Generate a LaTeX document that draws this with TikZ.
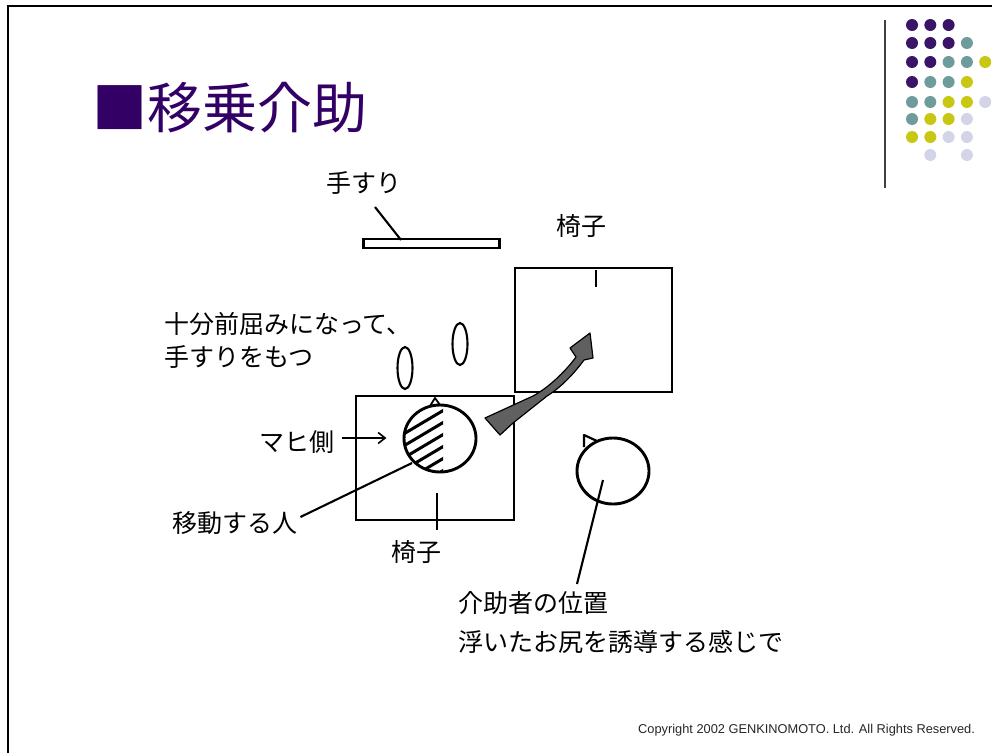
\documentclass[tikz,border=0pt]{standalone}
\usepackage{fontspec}
\setmainfont{Liberation Sans}
\newfontfamily\jp{Noto Sans CJK JP}
\usetikzlibrary{arrows.meta}
\definecolor{titlepurple}{HTML}{330066}
\definecolor{dotP}{HTML}{3A1466}
\definecolor{dotT}{HTML}{6E9C9C}
\definecolor{dotY}{HTML}{C8C814}
\definecolor{dotL}{HTML}{D4D4E8}
\definecolor{arrowgray}{HTML}{606060}
\tikzset{
  lbl/.style={font=\jp\fontsize{25}{29}\selectfont, anchor=west, inner sep=0pt, text=black},
  ink/.style={draw=black, line width=2.9pt},
  thinink/.style={draw=black, line width=2.1pt},
  dotstyle/.style={circle, minimum size=12pt, inner sep=0pt},
}
\begin{document}
\begin{tikzpicture}[x=1pt,y=-1pt]
\useasboundingbox (0,0) rectangle (992,753);
% frame
\draw[line width=2.6pt] (8,753) -- (8,6) -- (992,6);
% title
\node[anchor=west, inner sep=0pt, text=titlepurple, font=\jp\fontsize{55}{62}\selectfont] (title) at (92,108) {■移乗介助};
% logo
\draw[line width=1.3pt, draw=black!75] (885,20) coordinate (vl1) -- (885,188) coordinate (vl2);
\foreach \row/\ycoord/\list in {0/25/{P,P,P},1/43/{P,P,P,T},2/62/{P,P,T,T,Y},3/82/{P,T,T,Y},4/102/{T,T,Y,Y,L},5/119/{T,Y,Y,L},6/137/{Y,Y,L,L}}{
  \foreach \c [count=\i from 0] in \list {
    \pgfmathsetmacro{\xx}{912+18.3*\i}
    \node[dotstyle, fill=dot\c] (dot-\row-\i) at (\xx,\ycoord) {};
  }
}
\node[dotstyle, fill=dotL] (dot-7-1) at (930.3,155) {};
\node[dotstyle, fill=dotL] (dot-7-3) at (966.9,155) {};
% handrail
\node[draw=black, line width=2.6pt, minimum width=136pt, minimum height=9pt, inner sep=0pt] (rail) at (431.5,243.5) {};
\node[lbl] (railtxt) at (326,183) {手すり};
\coordinate (railtop) at (375,207);
\draw[thinink] (railtop) -- (401,240);
% top chair
\node[ink, minimum width=157pt, minimum height=124pt, inner sep=0pt] (chairA) at (593.5,330) {};
\draw[thinink] (596,270) -- (596,287);
\node[lbl] (chairAtxt) at (556,226) {椅子};
% bottom chair
\node[ink, minimum width=158pt, minimum height=124pt, inner sep=0pt] (chairB) at (435,458) {};
\draw[thinink] (437,493) -- (437,530);
\node[lbl] (chairBtxt) at (391,552) {椅子};
% ovals (hands)
\draw[thinink] (405,368) ellipse [x radius=7.5, y radius=21];
\draw[thinink] (460,344) ellipse [x radius=7.5, y radius=21];
% texts
\node[lbl] (t1) at (164,324) {十分前屈みになって、};
\node[lbl] (t2) at (164,357) {手すりをもつ};
\node[lbl] (mahi) at (259,442) {マヒ側};
\node[lbl] (idou) at (172,523) {移動する人};
\node[lbl] (kaijo1) at (458,603) {介助者の位置};
\node[lbl] (kaijo2) at (458,642) {浮いたお尻を誘導する感じで};
% person circle with hatching
\begin{scope}
  \clip (440,438.5) ellipse [x radius=36, y radius=33.5];
  \clip (380,390) rectangle (443,480);
  \foreach \yy in {410,422,434,446,458,470} {
    \draw[line width=3pt] (444,\yy) -- (380,\yy+38);
  }
\end{scope}
\draw[ink] (440,438.5) ellipse [x radius=36, y radius=33.5];
\coordinate (person) at (412,463);
\draw[line width=1.8pt] (430,406) -- (435,398) -- (440,405);
\draw[thinink] (idou.east) ++(3,-6) -- (person);
\draw[line width=1.6pt, -{Straight Barb[length=7pt,width=11pt]}] (mahi.east) ++(8,-4) coordinate (mahiarrow) -- ++(44,0);
% helper circle
\draw[ink] (613,471) ellipse [x radius=36, y radius=33];
\draw[line width=2.2pt, line join=round] (584,447) -- (584,435) -- (597,441);
\coordinate (helper) at (603,480);
\draw[thinink] (helper) -- (577,584);
% big gray curved arrow
\filldraw[fill=arrowgray, draw=black, line width=1.2pt, line join=round]
  (485,418) -- (533,396) .. controls (548,388) and (565,372) .. (576,357)
  -- (570,348) -- (590,333) -- (593,358) -- (584,360)
  .. controls (573,375) and (560,388) .. (547,396)
  -- (513,423) -- (500,435) -- cycle;
% copyright
\node[anchor=west, inner sep=0pt, font=\fontsize{12.8}{15}\selectfont, text=black!85] (copy) at (638,730) {Copyright 2002 GENKINOMOTO. Ltd. All Rights Reserved.};
\end{tikzpicture}
\end{document}
